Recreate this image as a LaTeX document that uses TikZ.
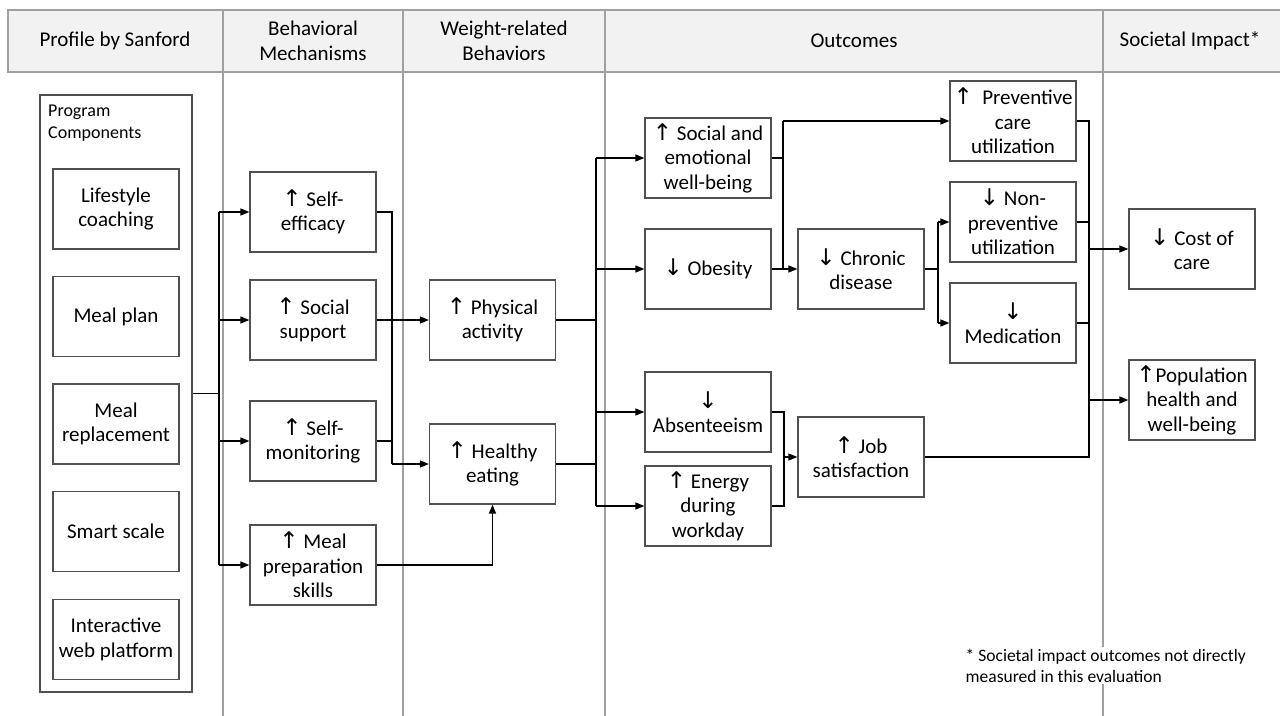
\documentclass[tikz,border=0pt]{standalone}
\usepackage{fontspec}
\setmainfont{Carlito}
\newfontfamily\arrfont{DejaVu Sans}
\usetikzlibrary{arrows.meta}
\definecolor{hdr}{HTML}{F2F2F2}
\definecolor{colline}{HTML}{A0A0A0}
\definecolor{boxline}{HTML}{505050}
\newcommand{\uparr}{{\arrfont\fontsize{23}{24.5}\selectfont\char"2191}}
\newcommand{\dnarr}{{\arrfont\fontsize{23}{24.5}\selectfont\char"2193}}
\begin{document}
\begin{tikzpicture}[x=1pt,y=-1pt,
  box/.style={draw=boxline, line width=1.2pt, minimum width=126pt, minimum height=80pt,
    align=center, font=\fontsize{21}{24.5}\selectfont, inner sep=2pt},
  hdrtext/.style={align=center, font=\fontsize{21}{24.5}\selectfont},
  colsep/.style={draw=colline, line width=2.6pt},
  conn/.style={line width=1.3pt, black},
  arr/.style={conn, -{Triangle[length=9pt,width=7pt]}}
]
\useasboundingbox[fill=white] (0,0) rectangle (1280,715);
% header band
\draw[colsep, fill=hdr] (8,10) rectangle (1285,72);
% column separators
\foreach \cx in {223,403,605,1103} \draw[colsep] (\cx,10) -- (\cx,716);
% header texts
\node[hdrtext] (h1) at (115,41) {Profile by Sanford};
\node[hdrtext] (h2) at (313,41) {Behavioral\\Mechanisms};
\node[hdrtext] (h3) at (504,41) {Weight-related\\Behaviors};
\node[hdrtext] (h4) at (854,41) {Outcomes};
\node[hdrtext] (h5) at (1190,41) {Societal Impact*};

% program components
\node[draw=boxline, line width=1.2pt, minimum width=152pt, minimum height=597pt, inner sep=0pt] (pc) at (116,393.5) {};
\node[anchor=north west, align=left, font=\fontsize{18}{22}\selectfont, inner sep=0pt] (pcl) at (48,105) {Program\\Components};
\node[box] (lc) at (116,209) {Lifestyle\\coaching};
\node[box] (mp) at (116,316.5) {Meal plan};
\node[box] (mr) at (116,424) {Meal\\replacement};
\node[box] (sms) at (116,531.5) {Smart scale};
\node[box] (iw) at (116,639.5) {Interactive\\web platform};

% behavioral mechanisms
\node[box] (se) at (313,212) {\uparr{} Self-\\efficacy};
\node[box] (so) at (313,320) {\uparr{} Social\\support};
\node[box] (sm) at (313,441) {\uparr{} Self-\\monitoring};
\node[box] (mps) at (313,565) {\uparr{} Meal\\preparation\\skills};

% weight-related behaviors
\node[box] (pa) at (492.5,320) {\uparr{} Physical\\activity};
\node[box] (he) at (492.5,464) {\uparr{} Healthy\\eating};

% outcomes
\node[box] (sew) at (708,158) {\uparr{} Social and\\emotional\\well-being};
\node[box] (ob) at (708,269) {\dnarr{} Obesity};
\node[box] (ab) at (708,412) {\dnarr\\Absenteeism};
\node[box] (en) at (708,506) {\uparr{} Energy\\during\\workday};
\node[box] (cd) at (861,269) {\dnarr{} Chronic\\disease};
\node[box] (js) at (861,457) {\uparr{} Job\\satisfaction};
\node[box] (pcu) at (1013,121) {\uparr{}\ \ Preventive\\care\\utilization};
\node[box] (np) at (1013,222) {\dnarr{} Non-\\preventive\\utilization};
\node[box] (med) at (1013,323) {\dnarr\\Medication};

% societal impact
\node[box] (cost) at (1192,249) {\dnarr{} Cost of\\care};
\node[box] (pop) at (1192,400) {\uparr{}Population\\health and\\well-being};

% footnote
\node[anchor=north west, fill=white, align=left, font=\fontsize{17.5}{21}\selectfont, inner sep=1.5pt] (fn) at (964,647)
  {* Societal impact outcomes not directly\\measured in this evaluation};

% bus coordinates
\coordinate (b1) at (219,0);
\coordinate (b2) at (392,0);
\coordinate (b3) at (596,0);
\coordinate (b4) at (783,0);
\coordinate (b5) at (784,0);
\coordinate (b6) at (938,0);
\coordinate (b7) at (1089,0);

% program -> mechanisms
\draw[conn] (pc.east) -- (pc.east -| b1);
\draw[conn] (b1 |- se.west) -- (b1 |- mps.west);
\foreach \n in {se,so,sm,mps} \draw[arr] (b1 |- \n.west) -- (\n.west);

% mechanisms -> behaviors
\draw[conn] (se.east) -- (se.east -| b2) -- (b2 |- he.west);
\draw[conn] (so.east) -- (so.east -| b2);
\draw[conn] (sm.east) -- (sm.east -| b2);
\draw[arr] (so.east -| b2) -- (pa.west);
\draw[arr] (b2 |- he.west) -- (he.west);
\draw[arr] (mps.east) -| (he.south);

% behaviors -> outcomes
\draw[conn] (pa.east) -- (pa.east -| b3);
\draw[conn] (he.east) -- (he.east -| b3);
\draw[conn] (b3 |- sew.west) -- (b3 |- en.west);
\foreach \n in {sew,ob,ab,en} \draw[arr] (b3 |- \n.west) -- (\n.west);

% outcomes -> outcomes
\draw[conn] (sew.east) -- (sew.east -| b4);
\draw[conn] (b4 |- ob.east) -- (b4 |- pcu.west);
\draw[arr] (b4 |- pcu.west) -- (pcu.west);
\draw[arr] (ob.east) -- (cd.west);
\draw[conn] (ab.east) -- (ab.east -| b5) -- (b5 |- en.east) -- (en.east);
\draw[arr] (b5 |- js.west) -- (js.west);
\draw[conn] (cd.east) -- (cd.east -| b6);
\draw[conn] (b6 |- np.west) -- (b6 |- med.west);
\draw[arr] (b6 |- np.west) -- (np.west);
\draw[arr] (b6 |- med.west) -- (med.west);

% outcomes -> societal impact
\draw[conn] (pcu.east) -- (pcu.east -| b7) -- (b7 |- js.east) -- (js.east);
\draw[conn] (np.east) -- (np.east -| b7);
\draw[conn] (med.east) -- (med.east -| b7);
\draw[arr] (b7 |- cost.west) -- (cost.west);
\draw[arr] (b7 |- pop.west) -- (pop.west);
\end{tikzpicture}
\end{document}
